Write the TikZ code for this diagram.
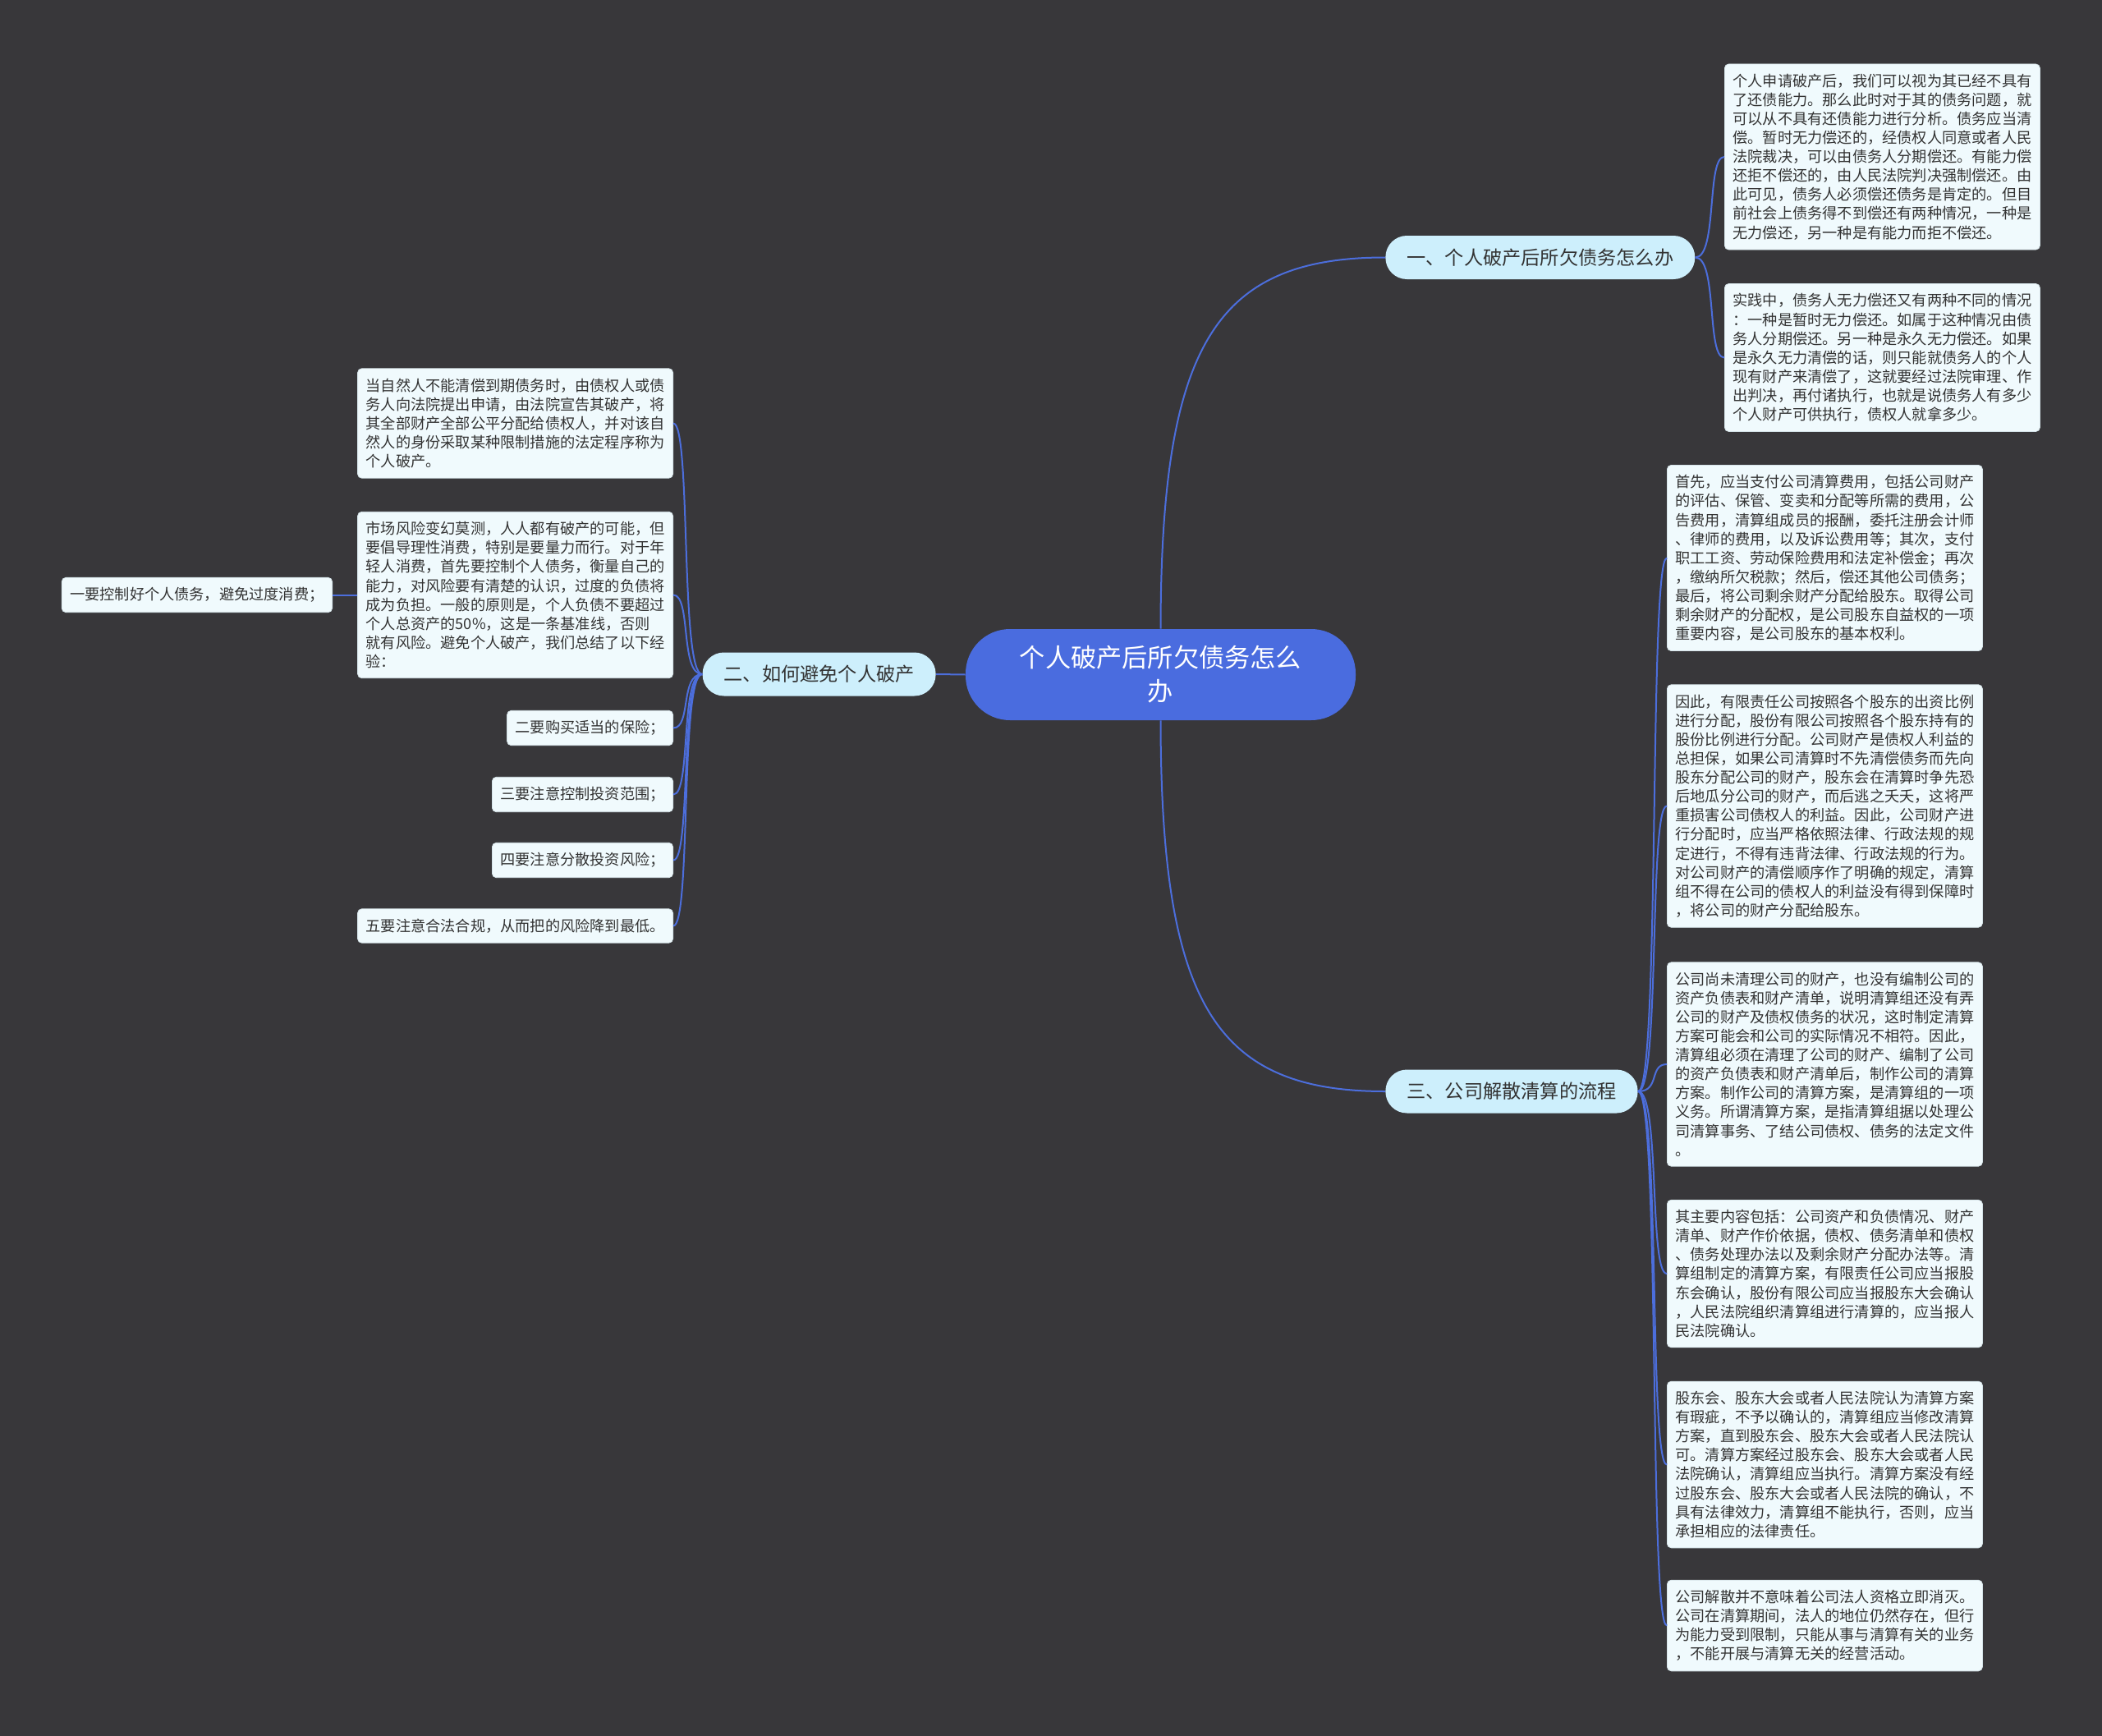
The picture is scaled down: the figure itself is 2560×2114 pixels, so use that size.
\documentclass[tikz,border=0pt]{standalone}
\usepackage{fontspec}
\setmainfont{Noto Sans CJK SC}
\definecolor{bg}{HTML}{38373A}
\definecolor{leaffill}{HTML}{F0FAFD}
\definecolor{leafdraw}{HTML}{D5E3E8}
\definecolor{branchfill}{HTML}{CDEFFC}
\definecolor{centerfill}{HTML}{4A6CDF}
\definecolor{linkcol}{HTML}{4C6EDC}
\definecolor{txt}{HTML}{333333}
\begin{document}
\begin{tikzpicture}[x=0.5pt,y=-0.5pt,
  leaf/.style={draw=leafdraw,line width=0.4pt,fill=leaffill,text=txt,rounded corners=2.5pt,
    inner xsep=5pt,inner ysep=6pt,align=left,font=\fontsize{9.1}{11.55}\selectfont},
  branch/.style={fill=branchfill,text=txt,rounded corners=13pt,inner xsep=13pt,inner ysep=0pt,
    minimum height=26.5pt,font=\fontsize{11.6}{14}\selectfont},
  root/.style={fill=centerfill,text=white,rounded corners=27pt,minimum width=237.5pt,
    minimum height=55.5pt,align=center,font=\fontsize{15.6}{20.5}\selectfont},
  link/.style={draw=linkcol,line width=1pt}]
\fill[bg] (0,0) rectangle (2560,2114);
\useasboundingbox (0,0) rectangle (2560,2114);

% root and branches
\node[root] (c) at (1413.5,821.5) {个人破产后所欠债务怎么\\办};
\node[branch,anchor=west] (b1) at (1687,313.5) {一、个人破产后所欠债务怎么办};
\node[branch,anchor=east] (b2) at (1140,821) {二、如何避免个人破产};
\node[branch,anchor=west] (b3) at (1687,1329) {三、公司解散清算的流程};

% branch 1 leaves
\node[leaf,anchor=west] (l1a) at (2100,191) {个人申请破产后，我们可以视为其已经不具有\\了还债能力。那么此时对于其的债务问题，就\\可以从不具有还债能力进行分析。债务应当清\\偿。暂时无力偿还的，经债权人同意或者人民\\法院裁决，可以由债务人分期偿还。有能力偿\\还拒不偿还的，由人民法院判决强制偿还。由\\此可见，债务人必须偿还债务是肯定的。但目\\前社会上债务得不到偿还有两种情况，一种是\\无力偿还，另一种是有能力而拒不偿还。};
\node[leaf,anchor=west] (l1b) at (2100,435.5) {实践中，债务人无力偿还又有两种不同的情况\\：一种是暂时无力偿还。如属于这种情况由债\\务人分期偿还。另一种是永久无力偿还。如果\\是永久无力清偿的话，则只能就债务人的个人\\现有财产来清偿了，这就要经过法院审理、作\\出判决，再付诸执行，也就是说债务人有多少\\个人财产可供执行，债权人就拿多少。};

% branch 3 leaves
\node[leaf,anchor=west] (l3a) at (2030,679.5) {首先，应当支付公司清算费用，包括公司财产\\的评估、保管、变卖和分配等所需的费用，公\\告费用，清算组成员的报酬，委托注册会计师\\、律师的费用，以及诉讼费用等；其次，支付\\职工工资、劳动保险费用和法定补偿金；再次\\，缴纳所欠税款；然后，偿还其他公司债务；\\最后，将公司剩余财产分配给股东。取得公司\\剩余财产的分配权，是公司股东自益权的一项\\重要内容，是公司股东的基本权利。};
\node[leaf,anchor=west] (l3b) at (2030,981.5) {因此，有限责任公司按照各个股东的出资比例\\进行分配，股份有限公司按照各个股东持有的\\股份比例进行分配。公司财产是债权人利益的\\总担保，如果公司清算时不先清偿债务而先向\\股东分配公司的财产，股东会在清算时争先恐\\后地瓜分公司的财产，而后逃之夭夭，这将严\\重损害公司债权人的利益。因此，公司财产进\\行分配时，应当严格依照法律、行政法规的规\\定进行，不得有违背法律、行政法规的行为。\\对公司财产的清偿顺序作了明确的规定，清算\\组不得在公司的债权人的利益没有得到保障时\\，将公司的财产分配给股东。};
\node[leaf,anchor=west] (l3c) at (2030,1296) {公司尚未清理公司的财产，也没有编制公司的\\资产负债表和财产清单，说明清算组还没有弄\\公司的财产及债权债务的状况，这时制定清算\\方案可能会和公司的实际情况不相符。因此，\\清算组必须在清理了公司的财产、编制了公司\\的资产负债表和财产清单后，制作公司的清算\\方案。制作公司的清算方案，是清算组的一项\\义务。所谓清算方案，是指清算组据以处理公\\司清算事务、了结公司债权、债务的法定文件\\。};
\node[leaf,anchor=west] (l3d) at (2030,1551) {其主要内容包括：公司资产和负债情况、财产\\清单、财产作价依据，债权、债务清单和债权\\、债务处理办法以及剩余财产分配办法等。清\\算组制定的清算方案，有限责任公司应当报股\\东会确认，股份有限公司应当报股东大会确认\\，人民法院组织清算组进行清算的，应当报人\\民法院确认。};
\node[leaf,anchor=west] (l3e) at (2030,1783.5) {股东会、股东大会或者人民法院认为清算方案\\有瑕疵，不予以确认的，清算组应当修改清算\\方案，直到股东会、股东大会或者人民法院认\\可。清算方案经过股东会、股东大会或者人民\\法院确认，清算组应当执行。清算方案没有经\\过股东会、股东大会或者人民法院的确认，不\\具有法律效力，清算组不能执行，否则，应当\\承担相应的法律责任。};
\node[leaf,anchor=west] (l3f) at (2030,1979.5) {公司解散并不意味着公司法人资格立即消灭。\\公司在清算期间，法人的地位仍然存在，但行\\为能力受到限制，只能从事与清算有关的业务\\，不能开展与清算无关的经营活动。};

% branch 2 leaves
\node[leaf,anchor=east] (l2a) at (820,515.5) {当自然人不能清偿到期债务时，由债权人或债\\务人向法院提出申请，由法院宣告其破产，将\\其全部财产全部公平分配给债权人，并对该自\\然人的身份采取某种限制措施的法定程序称为\\个人破产。};
\node[leaf,anchor=east] (l2b) at (820,724.5) {市场风险变幻莫测，人人都有破产的可能，但\\要倡导理性消费，特别是要量力而行。对于年\\轻人消费，首先要控制个人债务，衡量自己的\\能力，对风险要有清楚的认识，过度的负债将\\成为负担。一般的原则是，个人负债不要超过\\个人总资产的50\%，这是一条基准线，否则\\就有风险。避免个人破产，我们总结了以下经\\验：};
\node[leaf,anchor=east] (l2b1) at (405,724.5) {一要控制好个人债务，避免过度消费；};
\node[leaf,anchor=east] (l2c) at (820,886.5) {二要购买适当的保险；};
\node[leaf,anchor=east] (l2d) at (820,967.5) {三要注意控制投资范围；};
\node[leaf,anchor=east] (l2e) at (820,1047.5) {四要注意分散投资风险；};
\node[leaf,anchor=east] (l2f) at (820,1127.5) {五要注意合法合规，从而把的风险降到最低。};

% connectors root
\draw[link] (c.north) .. controls (1414,420) and (1480,313.5) .. (b1.west);
\draw[link] (c.south) .. controls (1414,1223) and (1480,1329) .. (b3.west);
\draw[link] (c.west) -- (b2.east);

% branch 1 connectors
\foreach \n in {l1a,l1b}
  \draw[link] (b1.east) .. controls (2092,313.5) and (2078,0|-\n.west) .. (\n.west);
% branch 3 connectors
\foreach \n in {l3a,l3b,l3c,l3d,l3e,l3f}
  \draw[link] (b3.east) .. controls (2022,1329) and (2008,0|-\n.west) .. (\n.west);
% branch 2 connectors
\foreach \n in {l2a,l2b,l2c,l2d,l2e,l2f}
  \draw[link] (b2.west) .. controls (828,821) and (842,0|-\n.east) .. (\n.east);
\draw[link] (l2b.west) -- (l2b1.east);
\end{tikzpicture}
\end{document}
